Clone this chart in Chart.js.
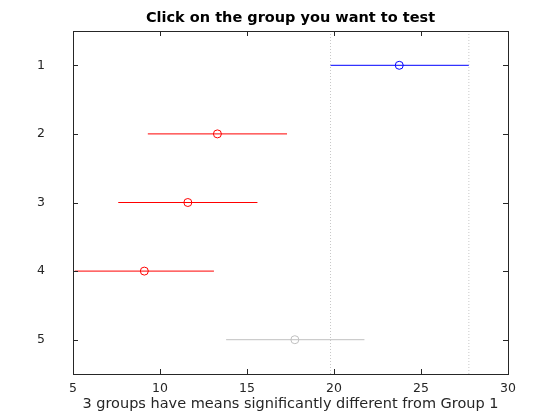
<!DOCTYPE html>
<html>
<head>
<meta charset="utf-8">
<script src="https://cdn.jsdelivr.net/npm/chart.js@4/dist/chart.umd.min.js"></script>
<style>
  html, body { margin: 0; padding: 0; background: #fff; }
  #wrap { width: 560px; height: 420px; }
</style>
</head>
<body>
<div id="wrap"><canvas id="chart"></canvas></div>
<script>
// group means and comparison intervals
const groups = [1, 2, 3, 4, 5];
const means = [23.75, 13.3, 11.6, 9.1, 17.75];
const lower = [19.8, 9.3, 7.6, 5.1, 13.8];
const upper = [27.75, 17.3, 15.6, 13.1, 21.75];
const groupColors = ['#0000ff', '#ff0000', '#ff0000', '#ff0000', '#c0c0c0'];
// reference interval of the selected group (dotted lines)
const refLines = [19.8, 27.75];
const xTicks = [5, 10, 15, 20, 25, 30];
const titleText = 'Click on the group you want to test';

const axisColor = '#262626';
const font = 'DejaVu Sans';

const datasets = [];

refLines.forEach(v => {
    datasets.push({
        data: [{ x: v, y: 0.5 }, { x: v, y: 5.5 }],
        showLine: true,
        borderColor: '#c8c8c8',
        borderWidth: 1,
        borderDash: [1, 2],
        pointRadius: 0
    });
});

groups.forEach((g, i) => {
    datasets.push({
        data: [{ x: lower[i], y: g }, { x: upper[i], y: g }],
        showLine: true,
        borderColor: groupColors[i],
        borderWidth: 1,
        pointRadius: 0
    });
});

datasets.push({
    data: groups.map((g, i) => ({ x: means[i], y: g })),
    showLine: false,
    pointStyle: 'circle',
    pointRadius: 4,
    pointBorderWidth: 1,
    pointBackgroundColor: 'rgba(0,0,0,0)',
    pointBorderColor: groupColors.slice()
});

// MATLAB-like box with inward ticks, title centred over the axes
const boxPlugin = {
    id: 'box',
    afterDatasetsDraw(chart) {
        const { ctx, chartArea: a, scales } = chart;
        ctx.save();
        ctx.strokeStyle = axisColor;
        ctx.lineWidth = 1;
        ctx.strokeRect(Math.round(a.left) + 0.5, Math.round(a.top) + 0.5,
            Math.round(a.right - a.left), Math.round(a.bottom - a.top));
        ctx.beginPath();
        xTicks.forEach(t => {
            const x = Math.round(scales.x.getPixelForValue(t)) + 0.5;
            ctx.moveTo(x, a.bottom); ctx.lineTo(x, a.bottom - 5);
            ctx.moveTo(x, a.top); ctx.lineTo(x, a.top + 5);
        });
        groups.forEach(t => {
            const y = Math.round(scales.y.getPixelForValue(t)) + 0.5;
            ctx.moveTo(a.left, y); ctx.lineTo(a.left + 5, y);
            ctx.moveTo(a.right, y); ctx.lineTo(a.right - 5, y);
        });
        ctx.stroke();

        ctx.fillStyle = '#000';
        ctx.font = 'bold 14.5px "' + font + '"';
        ctx.textAlign = 'center';
        ctx.textBaseline = 'middle';
        ctx.fillText(titleText, (a.left + a.right) / 2, 18);
        ctx.restore();
    }
};

new Chart(document.getElementById('chart'), {
    type: 'scatter',
    data: { datasets },
    options: {
        responsive: true,
        maintainAspectRatio: false,
        animation: false,
        layout: { padding: { left: 0, right: 52, top: 31, bottom: 0 } },
        plugins: {
            legend: { display: false },
            tooltip: { enabled: false },
            title: { display: false }
        },
        scales: {
            x: {
                type: 'linear',
                min: 5,
                max: 30,
                afterBuildTicks: s => { s.ticks = xTicks.map(v => ({ value: v })); },
                afterFit: s => { s.height = 46; s.paddingLeft = 0; s.paddingRight = 0; },
                grid: { display: false, drawTicks: false },
                border: { display: false },
                ticks: { color: axisColor, font: { family: font, size: 12.5 }, padding: 7, maxRotation: 0 },
                title: {
                    display: true,
                    text: '3 groups have means significantly different from Group 1',
                    color: axisColor,
                    font: { family: font, size: 14.5 },
                    padding: { top: 0, bottom: 7 }
                }
            },
            y: {
                type: 'linear',
                reverse: true,
                min: 0.5,
                max: 5.5,
                afterBuildTicks: s => { s.ticks = groups.map(v => ({ value: v })); },
                afterFit: s => { s.width = 73; s.paddingTop = 0; s.paddingBottom = 0; },
                grid: { display: false, drawTicks: false },
                border: { display: false },
                ticks: { color: axisColor, font: { family: font, size: 12.5 }, padding: 28 }
            }
        }
    },
    plugins: [boxPlugin]
});
</script>
</body>
</html>
